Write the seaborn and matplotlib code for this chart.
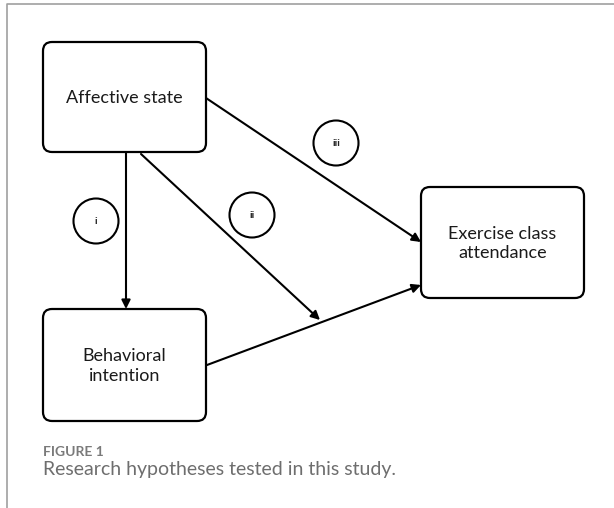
import matplotlib
matplotlib.use("Agg")
import matplotlib.pyplot as plt
from matplotlib.patches import FancyBboxPatch, Ellipse
import seaborn as sns

sns.set_style("white")
plt.rcParams['font.family'] = ['Lato', 'DejaVu Sans']

# boxes: label, left, top, width, height (pixel space of the figure)
box_labels = ["Affective state", "Behavioral\nintention", "Exercise class\nattendance"]
box_x = [43, 43, 421]
box_y = [42, 309, 187]
box_w = [163, 163, 163]
box_h = [110, 112, 111]

# paths between boxes: start and end points
path_start = [(126, 152), (141, 154), (206, 98), (207, 365)]
path_end = [(126, 309), (320, 320), (421, 242), (421, 285)]

# hypothesis markers
hyp_labels = ["i", "ii", "iii"]
hyp_x = [96, 252, 336]
hyp_y = [221, 215, 143]

# panel frame
frame_x = [7, 7, 614]
frame_y = [508, 4, 4]

fig, ax = plt.subplots(figsize=(6.14, 5.08), dpi=100)
fig.subplots_adjust(0, 0, 1, 1)
ax.set_xlim(0, 614)
ax.set_ylim(508, 0)
ax.axis("off")

sns.lineplot(x=frame_x, y=frame_y, sort=False, estimator=None, color="#a0a0a0",
             lw=1.2, ax=ax)

for lab, x, y, w, h in zip(box_labels, box_x, box_y, box_w, box_h):
    ax.add_patch(FancyBboxPatch((x, y), w, h, boxstyle="round,pad=0,rounding_size=9",
                                fc="white", ec="black", lw=1.6))
    ax.text(x + w / 2, y + h / 2 + 1, lab, ha="center", va="center",
            fontsize=13, color="#1a1a1a", linespacing=1.3)

for (x0, y0), (x1, y1) in zip(path_start, path_end):
    ax.annotate("", xy=(x1, y1), xytext=(x0, y0),
                arrowprops=dict(arrowstyle="-|>", mutation_scale=13, lw=1.5,
                                color="black", shrinkA=0, shrinkB=0))

for lab, x, y in zip(hyp_labels, hyp_x, hyp_y):
    ax.add_patch(Ellipse((x, y), 45, 45, fc="white", ec="black", lw=1.5))
    ax.text(x, y, lab, ha="center", va="center", fontsize=7.5,
            fontweight="bold", color="#222222")

ax.text(43, 452, "FIGURE 1", ha="left", va="center", fontsize=10,
        fontweight="bold", color="#7a7a7a")
ax.text(43, 469, "Research hypotheses tested in this study.", ha="left", va="center",
        fontsize=14, color="#6e6e6e")

fig.savefig("out.png", dpi=100)
